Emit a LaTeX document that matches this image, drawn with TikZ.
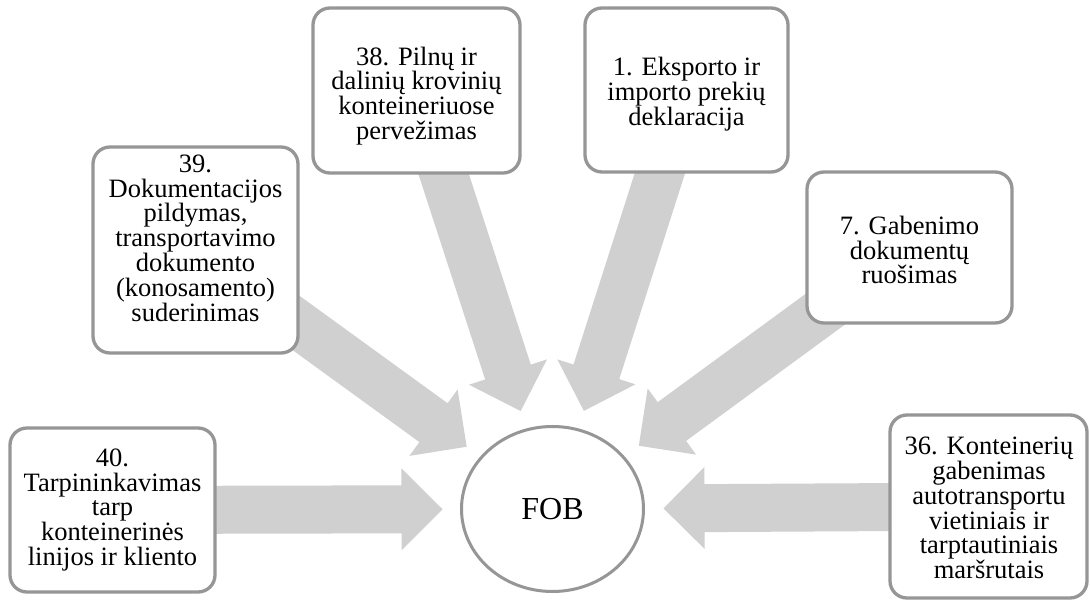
\documentclass[tikz,border=0pt]{standalone}
\usepackage{fontspec}
\setmainfont{Liberation Serif}
\usetikzlibrary{calc,shapes.geometric,backgrounds}
\definecolor{framegray}{RGB}{150,150,150}
\definecolor{arrowgray}{RGB}{208,208,208}

\tikzset{
  card/.style={draw=framegray, line width=3.3pt, fill=white, rounded corners=17pt, inner sep=0pt},
  cardtext/.style={align=center, inner sep=0pt, font=\fontsize{26.5}{24.8}\selectfont},
  hub/.style={ellipse, draw=framegray, line width=3pt, fill=white, inner sep=0pt,
    minimum width=182pt, minimum height=165pt, font=\fontsize{32}{36}\selectfont},
  feed/.style={fill=arrowgray}
}

% block arrow from the centre of a card towards the hub;
% #1 card, #2 hub, #3 distance of the tip from the hub centre
\newcommand\feedarrow[3]{%
  \path ($(#2.center)!#3pt!(#1.center)$) coordinate (tip-#1)
        ($(tip-#1)!41pt!(#1.center)$) coordinate (base-#1);
  \fill[feed] ($(#1.center)!24pt!90:(tip-#1)$)
    -- ($(base-#1)!24pt!90:(tip-#1)$)
    -- ($(base-#1)!41pt!90:(tip-#1)$)
    -- (tip-#1)
    -- ($(base-#1)!41pt!-90:(tip-#1)$)
    -- ($(base-#1)!24pt!-90:(tip-#1)$)
    -- ($(#1.center)!24pt!-90:(tip-#1)$)
    -- cycle;
}

\begin{document}
\begin{tikzpicture}[x=1pt,y=-1pt]
\useasboundingbox (0,0) rectangle (1090,601);

% centre
\node[hub] (fob) at (552.5,509) {FOB};

% cards
\node[card, minimum width=205pt, minimum height=164pt] (b40) at (112.5,510) {};
\node[cardtext] (t40) at (112.5,510) {40.\\Tarpininkavimas\\tarp\\konteinerinės\\linijos ir kliento};

\node[card, minimum width=205pt, minimum height=206pt] (b39) at (195.5,250) {};
\node[cardtext] (t39) at (195.5,238) {39.\\Dokumentacijos\\pildymas,\\transportavimo\\dokumento\\(konosamento)\\suderinimas};

\node[card, minimum width=207pt, minimum height=165pt] (b38) at (416.5,90.5) {};
\node[cardtext] (t38) at (416.5,96) {38. Pilnų ir\\dalinių krovinių\\konteineriuose\\pervežimas};

\node[card, minimum width=203pt, minimum height=164pt] (b1) at (686.5,90) {};
\node[cardtext] (t1) at (686.5,94) {1. Eksporto ir\\importo prekių\\deklaracija};

\node[card, minimum width=205pt, minimum height=151pt] (b7) at (909.5,247.5) {};
\node[cardtext] (t7) at (909.5,250) {7. Gabenimo\\dokumentų\\ruošimas};

\node[card, minimum width=197pt, minimum height=183pt] (b36) at (988.5,506.5) {};
\node[cardtext] (t36) at (989,508) {36. Konteinerių\\gabenimas\\autotransportu\\vietiniais ir\\tarptautiniais\\maršrutais};

% arrows behind the cards
\begin{scope}[on background layer]
  \fill[white] (0,0) rectangle (1090,601);
  \feedarrow{b40}{fob}{110}
  \feedarrow{b39}{fob}{106}
  \feedarrow{b38}{fob}{103}
  \feedarrow{b1}{fob}{103}
  \feedarrow{b7}{fob}{107}
  \feedarrow{b36}{fob}{111}
\end{scope}
\end{tikzpicture}
\end{document}
